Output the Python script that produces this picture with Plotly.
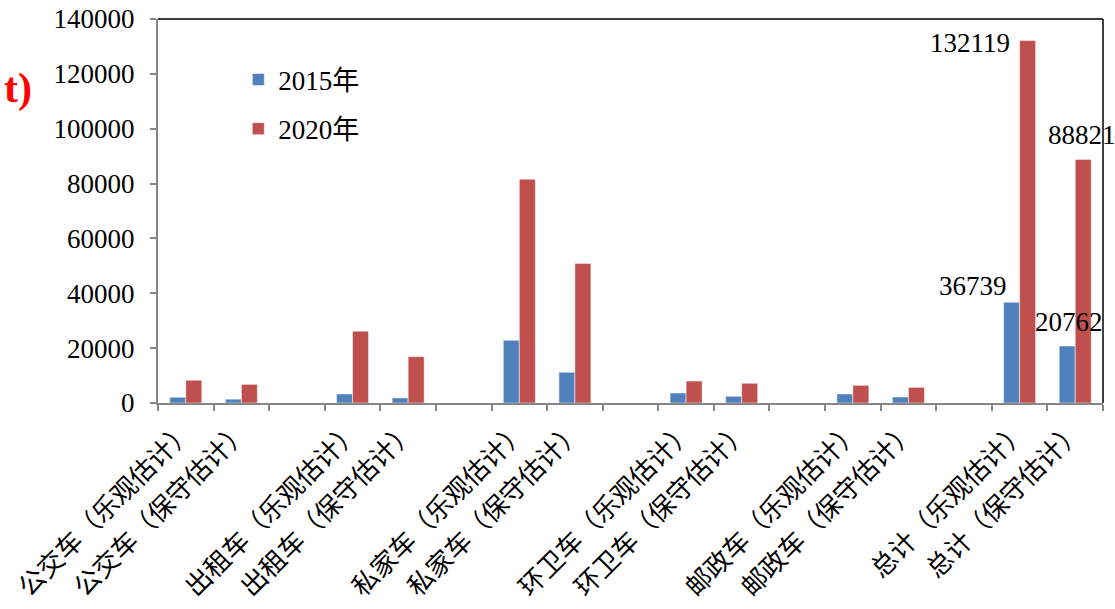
import plotly.graph_objects as go

categories = [
    "公交车（乐观估计）", "公交车（保守估计）", " ",
    "出租车（乐观估计）", "出租车（保守估计）", "  ",
    "私家车（乐观估计）", "私家车（保守估计）", "   ",
    "环卫车（乐观估计）", "环卫车（保守估计）", "    ",
    "邮政车（乐观估计）", "邮政车（保守估计）", "     ",
    "总计（乐观估计）", "总计（保守估计）",
]
values_2015 = [2100, 1400, None, 3300, 1850, None, 22900, 11200, None,
               3650, 2450, None, 3300, 2200, None, 36739, 20762]
values_2020 = [8300, 6800, None, 26200, 16900, None, 81600, 50900, None,
               8000, 7200, None, 6450, 5700, None, 132119, 88821]
series_names = ["2015年", "2020年"]
y_ticks = [0, 20000, 40000, 60000, 80000, 100000, 120000, 140000]

LATIN = "Liberation Serif, Times New Roman, Noto Sans CJK SC"
CJK = "Noto Sans CJK SC, Liberation Serif"

fig = go.Figure()
fig.add_trace(go.Bar(
    x=categories, y=values_2015, name=series_names[0], legendgroup="a",
    marker=dict(color="#4F81BD", line=dict(color="rgba(255,255,255,0.5)", width=1)),
))
fig.add_trace(go.Bar(
    x=categories, y=values_2020, name=series_names[1], legendgroup="b",
    marker=dict(color="#C0504D", line=dict(color="rgba(255,255,255,0.5)", width=1)),
))

ann_font = dict(family=LATIN, size=27, color="black")
annotations = [
    dict(x=categories[15], y=values_2020[15], text=str(values_2020[15]),
         xanchor="right", yanchor="middle", xshift=-8, yshift=-2),
    dict(x=categories[15], y=values_2015[15], text=str(values_2015[15]),
         xanchor="right", yanchor="middle", xshift=-11, yshift=16),
    dict(x=categories[16], y=values_2020[16], text=str(values_2020[16]),
         xanchor="left", yanchor="middle", xshift=-29, yshift=24),
    dict(x=categories[16], y=values_2015[16], text=str(values_2015[16]),
         xanchor="left", yanchor="middle", xshift=-42, yshift=24),
]
for a in annotations:
    a.update(xref="x", yref="y", showarrow=False, font=ann_font)

annotations.append(dict(
    xref="paper", yref="paper", x=-0.131, y=0.82, xanchor="right", yanchor="middle",
    text="<b>t)</b>", showarrow=False,
    font=dict(family=LATIN, size=42, color="#FF0000"),
))

fig.update_layout(
    width=1115, height=609,
    margin=dict(l=158, r=12, t=19, b=206, autoexpand=False),
    paper_bgcolor="white", plot_bgcolor="white",
    barmode="group", bargap=0.424, bargroupgap=0,
    font=dict(family=LATIN, size=27, color="black"),
    showlegend=True,
    legend=dict(
        x=0.085, y=0.905, xanchor="left", yanchor="top",
        bgcolor="rgba(0,0,0,0)", font=dict(family=LATIN, size=27, color="black"),
        tracegroupgap=11, traceorder="grouped", itemwidth=30,
    ),
    annotations=annotations,
    shapes=[
        dict(type="line", xref="paper", yref="paper", x0=0, x1=1, y0=1, y1=1,
             line=dict(color="black", width=1.5)),
        dict(type="line", xref="paper", yref="paper", x0=1, x1=1, y0=0, y1=1,
             line=dict(color="black", width=1.5)),
    ],
)
fig.update_xaxes(
    type="category", categoryorder="array", categoryarray=categories,
    range=[-0.5, len(categories) - 0.5],
    showline=True, linecolor="#868686", linewidth=2,
    ticks="outside", tickson="boundaries", ticklen=6, tickcolor="#868686", tickwidth=2,
    tickangle=-45, tickfont=dict(family=CJK, size=26, color="black"),
    showgrid=False, zeroline=False, automargin=False,
)
fig.update_yaxes(
    range=[0, 140000], tickvals=y_ticks, tickformat="d",
    showline=True, linecolor="#868686", linewidth=2,
    ticks="outside", ticklen=6, tickcolor="#868686", tickwidth=2,
    tickfont=dict(family=LATIN, size=27, color="black"),
    ticklabelstandoff=10,
    showgrid=False, zeroline=False, automargin=False,
)

fig.write_html("out.html")
